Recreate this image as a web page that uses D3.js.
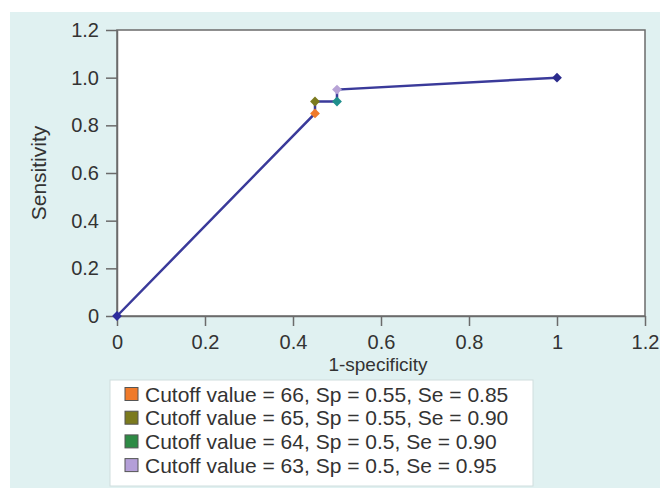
<!DOCTYPE html>
<html>
<head>
<meta charset="utf-8">
<script src="https://cdn.jsdelivr.net/npm/d3@7/dist/d3.min.js"></script>
<style>
  body { margin: 0; background: #fff; }
  svg { display: block; font-family: "Liberation Sans", Arial, sans-serif; }
</style>
</head>
<body>
<svg id="chart" width="660" height="488"></svg>
<script>
// ROC points (1-specificity, sensitivity)
var fpr = [0, 0.45, 0.45, 0.5, 0.5, 1];
var tpr = [0, 0.85, 0.90, 0.90, 0.95, 1];
var markerColors = ["#2b2b9c", "#f07a2a", "#7b7a1e", "#1f8f8c", "#b7a3d6", "#2b2b8c"];

var ticks = [0, 0.2, 0.4, 0.6, 0.8, 1, 1.2];
var xTickLabels = ["0", "0.2", "0.4", "0.6", "0.8", "1", "1.2"];
var yTickLabels = ["0", "0.2", "0.4", "0.6", "0.8", "1.0", "1.2"];

var legendLabels = [
  "Cutoff value = 66, Sp = 0.55, Se = 0.85",
  "Cutoff value = 65, Sp = 0.55, Se = 0.90",
  "Cutoff value = 64, Sp = 0.5, Se = 0.90",
  "Cutoff value = 63, Sp = 0.5, Se = 0.95"
];
var legendColors = ["#f07a2a", "#7b7a1e", "#2e8b45", "#b49fd8"];

var svg = d3.select("#chart");

// panel background
svg.append("rect")
  .attr("x", 10).attr("y", 12)
  .attr("width", 650).attr("height", 476)
  .attr("fill", "#e0f1f1");

var plotL = 117, plotR = 645, plotT = 30, plotB = 316;

var x = d3.scaleLinear().domain([0, 1.2]).range([plotL, plotR]);
var y = d3.scaleLinear().domain([0, 1.2]).range([plotB, plotT]);

// plot area
svg.append("rect")
  .attr("x", plotL).attr("y", plotT)
  .attr("width", plotR - plotL).attr("height", plotB - plotT)
  .attr("fill", "#fff")
  .attr("stroke", "#6b6b6b")
  .attr("stroke-width", 1.5);

// axes
var xAxis = d3.axisBottom(x).tickValues(ticks)
  .tickFormat(function(d, i) { return xTickLabels[i]; })
  .tickSize(10).tickSizeOuter(0);
var yAxis = d3.axisLeft(y).tickValues(ticks)
  .tickFormat(function(d, i) { return yTickLabels[i]; })
  .tickSize(11).tickSizeOuter(0);

var gx = svg.append("g").attr("transform", "translate(0," + plotB + ")").call(xAxis);
var gy = svg.append("g").attr("transform", "translate(" + plotL + ",0)").call(yAxis);

[gx, gy].forEach(function(g) {
  g.select(".domain").attr("stroke", "#6b6b6b").attr("stroke-width", 1.5);
  g.selectAll(".tick line").attr("stroke", "#6b6b6b").attr("stroke-width", 1.5);
  g.selectAll(".tick text")
    .attr("fill", "#333")
    .style("font-size", "20px")
    .style("font-family", "Liberation Sans, Arial, sans-serif");
});
gx.selectAll(".tick text").attr("y", 33).attr("dy", null);
gy.selectAll(".tick text").attr("x", -18);

// axis titles
svg.append("text")
  .attr("x", 378).attr("y", 371)
  .attr("text-anchor", "middle")
  .attr("fill", "#333")
  .style("font-size", "19px")
  .text("1-specificity");

svg.append("text")
  .attr("transform", "translate(46,173) rotate(-90)")
  .attr("text-anchor", "middle")
  .attr("fill", "#333")
  .style("font-size", "21px")
  .text("Sensitivity");

// roc line
var pts = fpr.map(function(d, i) { return [d, tpr[i]]; });
var line = d3.line()
  .x(function(d) { return x(d[0]); })
  .y(function(d) { return y(d[1]); });

svg.append("path")
  .datum(pts)
  .attr("d", line)
  .attr("fill", "none")
  .attr("stroke", "#3a3a9a")
  .attr("stroke-width", 2.5);

// markers (square rotated into a diamond)
svg.selectAll(".pt")
  .data(pts)
  .enter().append("path")
  .attr("class", "pt")
  .attr("d", d3.symbol().type(d3.symbolSquare).size(48))
  .attr("transform", function(d) { return "translate(" + x(d[0]) + "," + y(d[1]) + ") rotate(45)"; })
  .attr("fill", function(d, i) { return markerColors[i]; });

// legend
var lg = svg.append("g").attr("transform", "translate(110,380)");
lg.append("rect")
  .attr("width", 423).attr("height", 106)
  .attr("fill", "#fff")
  .attr("stroke", "#cfdede");

var rows = lg.selectAll(".row")
  .data(legendLabels)
  .enter().append("g")
  .attr("class", "row")
  .attr("transform", function(d, i) { return "translate(0," + (14 + i * 23.7) + ")"; });

rows.append("rect")
  .attr("x", 15).attr("y", -6.5)
  .attr("width", 13).attr("height", 13)
  .attr("fill", function(d, i) { return legendColors[i]; })
  .attr("stroke", "#555")
  .attr("stroke-width", 1);

rows.append("text")
  .attr("x", 35).attr("y", 7.5)
  .attr("fill", "#333")
  .style("font-size", "21px")
  .text(function(d) { return d; });
</script>
</body>
</html>
